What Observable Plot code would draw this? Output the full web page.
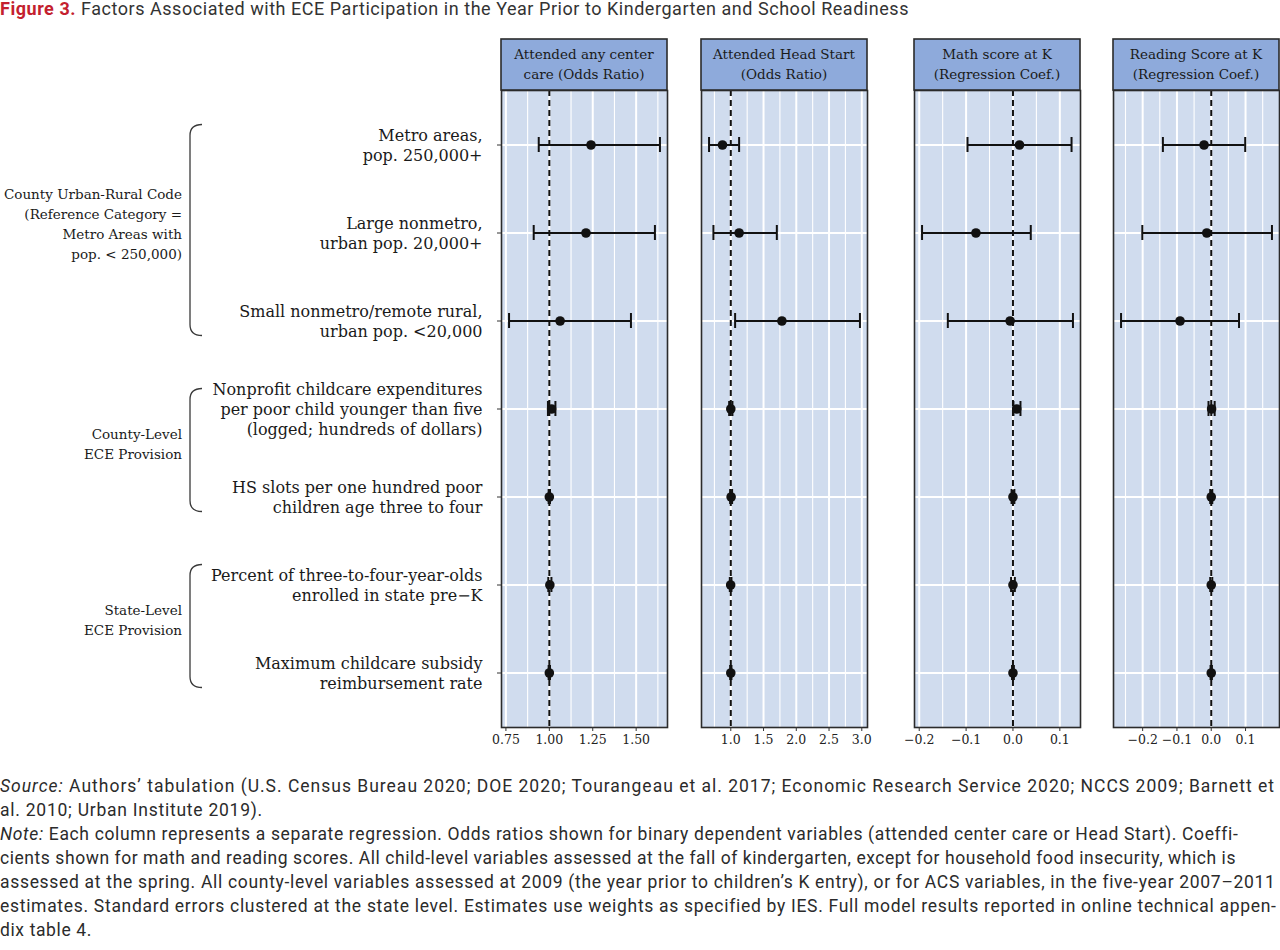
<!DOCTYPE html>
<html><head><meta charset="utf-8">
<script src="https://cdn.jsdelivr.net/npm/d3@7"></script>
<script src="https://cdn.jsdelivr.net/npm/@observablehq/plot@0.6"></script>
<style>
body{margin:0;background:#fff;width:1280px;height:950px;overflow:hidden;position:relative;font-family:Roboto,sans-serif;color:#2b2b2b}
#charts{position:absolute;left:0;top:0;width:1280px;height:770px}
#charts svg{position:absolute;top:0;overflow:visible}
#title{position:absolute;left:0;top:-1px;font-size:18px;line-height:20px;white-space:nowrap;color:#333}
#title b{color:#c41f2f;font-weight:700}
#foot{position:absolute;left:0;top:774px;font-size:17.5px;line-height:24px;white-space:nowrap;color:#2b2b2b}
#foot div{height:24px}
</style></head><body>
<div id="charts"></div>
<div id="title"><span id="ttl"><b>Figure 3.</b> Factors Associated with ECE Participation in the Year Prior to Kindergarten and School Readiness</span></div>
<div id="foot">
<div><span data-w="1275"><i>Source:</i> Authors’ tabulation (U.S. Census Bureau 2020; DOE 2020; Tourangeau et al. 2017; Economic Research Service 2020; NCCS 2009; Barnett et</span></div>
<div><span data-w="263">al. 2010; Urban Institute 2019).</span></div>
<div><span data-w="1237"><i>Note:</i> Each column represents a separate regression. Odds ratios shown for binary dependent variables (attended center care or Head Start). Coeffi-</span></div>
<div><span data-w="1236">cients shown for math and reading scores. All child-level variables assessed at the fall of kindergarten, except for household food insecurity, which is</span></div>
<div><span data-w="1275">assessed at the spring. All county-level variables assessed at 2009 (the year prior to children’s K entry), or for ACS variables, in the five-year 2007–2011</span></div>
<div><span data-w="1276">estimates. Standard errors clustered at the state level. Estimates use weights as specified by IES. Full model results reported in online technical appen-</span></div>
<div><span data-w="92">dix table 4.</span></div>
</div>
<script>
// ---------- data ----------
const rowLabels = [
  "Metro areas,\npop. 250,000+",
  "Large nonmetro,\nurban pop. 20,000+",
  "Small nonmetro/remote rural,\nurban pop. <20,000",
  "Nonprofit childcare expenditures\nper poor child younger than five\n(logged; hundreds of dollars)",
  "HS slots per one hundred poor\nchildren age three to four",
  "Percent of three-to-four-year-olds\nenrolled in state pre\u2212K",
  "Maximum childcare subsidy\nreimbursement rate"
];
const groupLabels = [
  "County Urban-Rural Code\n(Reference Category =\nMetro Areas with\npop. < 250,000)",
  "County-Level\nECE Provision",
  "State-Level\nECE Provision"
];
const groupFirst = [rowLabels[0], rowLabels[3], rowLabels[5]];
const groupLast  = [rowLabels[2], rowLabels[4], rowLabels[6]];

const panelTitles = [
  "Attended any center\ncare (Odds Ratio)",
  "Attended Head Start\n(Odds Ratio)",
  "Math score at K\n(Regression Coef.)",
  "Reading Score at K\n(Regression Coef.)"
];

const centerEst = [1.240, 1.211, 1.062, 1.013, 1.000, 1.003, 1.000];
const centerLo  = [0.939, 0.910, 0.768, 0.992, 0.996, 0.994, 0.996];
const centerHi  = [1.637, 1.608, 1.470, 1.035, 1.004, 1.012, 1.004];

const headEst = [0.873, 1.127, 1.780, 1.000, 1.005, 0.998, 1.000];
const headLo  = [0.668, 0.735, 1.066, 0.975, 0.990, 0.985, 0.990];
const headHi  = [1.127, 1.703, 2.972, 1.025, 1.020, 1.010, 1.010];

const mathEst = [0.014, -0.079, -0.006, 0.008, 0.000, 0.000, 0.000];
const mathLo  = [-0.097, -0.194, -0.139, 0.001, -0.003, -0.004, -0.002];
const mathHi  = [0.125, 0.038, 0.128, 0.016, 0.003, 0.004, 0.002];

const readEst = [-0.021, -0.013, -0.091, 0.001, 0.000, 0.000, 0.000];
const readLo  = [-0.141, -0.201, -0.263, -0.008, -0.003, -0.003, -0.002];
const readHi  = [0.099, 0.177, 0.081, 0.010, 0.003, 0.003, 0.002];

const centerTicks = [0.75, 1.00, 1.25, 1.50];
const headTicks = [1.0, 1.5, 2.0, 2.5, 3.0];
const mathTicks = [-0.2, -0.1, 0.0, 0.1];
const readTicks = [-0.2, -0.1, 0.0, 0.1];
const refValues = [1, 1, 0, 0];
const tickDecimals = [2, 1, 1, 1];

// ---------- layout ----------
const ests = [centerEst, headEst, mathEst, readEst];
const los = [centerLo, headLo, mathLo, readLo];
const his = [centerHi, headHi, mathHi, readHi];
const tickSets = [centerTicks, headTicks, mathTicks, readTicks];
const panelLeft = [501, 701, 914, 1113];
const panelW = 166;
const H = 770, MT = 90, MB = 43;
const INK = "#111";

function header(title) {
  return (index, scales, values, dims) => {
    const {width, marginLeft, marginRight, marginTop} = dims;
    const g = d3.create("svg:g");
    const x0 = marginLeft, w = width - marginLeft - marginRight;
    g.append("rect").attr("x", x0).attr("y", marginTop - 51).attr("width", w).attr("height", 51)
      .attr("fill", "#8eaadb").attr("stroke", "#2b2b2b").attr("stroke-width", 1.6);
    title.split("\n").forEach((ln, i) => {
      g.append("text").attr("x", x0 + w / 2).attr("y", marginTop - 51 + 15 + i * 20).attr("dy", "0.35em")
        .attr("text-anchor", "middle").attr("font-size", 13.5).attr("fill", "#1a1a1a").text(ln);
    });
    return g.node();
  };
}

function brackets(index, scales) {
  const y = scales.y;
  const half = y.bandwidth ? y.bandwidth() / 2 : 0;
  const g = d3.create("svg:g");
  groupLabels.forEach((lab, j) => {
    const top = y(groupFirst[j]) + half - 20, bot = y(groupLast[j]) + half + 15;
    const x0 = 190, x1 = 202, r = 11;
    g.append("path").attr("d", `M${x1},${top}Q${x0},${top} ${x0},${top + r}L${x0},${bot - r}Q${x0},${bot} ${x1},${bot}`)
      .attr("fill", "none").attr("stroke", "#3a3a3a").attr("stroke-width", 1.3);
    const lines = lab.split("\n");
    const c = (top + bot) / 2 - 6;
    lines.forEach((ln, i) => {
      g.append("text").attr("x", 182).attr("y", c + (i - (lines.length - 1) / 2) * 20).attr("dy", "0.35em")
        .attr("text-anchor", "end").attr("font-size", 13.5).attr("fill", "#1a1a1a").text(ln);
    });
  });
  return g.node();
}

function makePanel(k) {
  const data = rowLabels.map((row, i) => ({row, est: ests[k][i], lo: los[k][i], hi: his[k][i]}));
  const mn = d3.min(los[k]), mx = d3.max(his[k]), pad = (mx - mn) * 0.05;
  const domain = [mn - pad, mx + pad];
  const major = tickSets[k];
  const step = major[1] - major[0];
  const minor = d3.range(-20, 21).map(i => major[0] + (i + 0.5) * step).filter(v => v > domain[0] && v < domain[1]);
  const majorIn = d3.range(-20, 21).map(i => major[0] + i * step).filter(v => v > domain[0] && v < domain[1]);
  const first = k === 0;
  const mL = first ? panelLeft[0] : 10;
  const mR = k === 3 ? 1 : 10;
  const fmt = d3.format(`.${tickDecimals[k]}f`);
  const svg = Plot.plot({
    width: mL + panelW + mR, height: H,
    marginTop: MT, marginBottom: MB, marginLeft: mL, marginRight: mR,
    style: {fontFamily: "DejaVu Serif", fontSize: "12.5px", color: "#222", background: "none", overflow: "visible"},
    x: {domain},
    y: {type: "band", domain: rowLabels, paddingInner: 0.83, paddingOuter: 0.515, axis: first ? undefined : null},
    marks: [
      Plot.frame({fill: "#d0dcee"}),
      Plot.ruleX(minor, {stroke: "#fff", strokeWidth: 1.1}),
      Plot.ruleX(majorIn, {stroke: "#fff", strokeWidth: 2}),
      Plot.ruleY(rowLabels, {stroke: "#fff", strokeWidth: 2}),
      Plot.ruleX([refValues[k]], {stroke: INK, strokeWidth: 2, strokeDasharray: "6,4"}),
      Plot.ruleY(data, {y: "row", x1: "lo", x2: "hi", stroke: INK, strokeWidth: 2}),
      Plot.tickX(data, {x: "lo", y: "row", stroke: INK, strokeWidth: 2}),
      Plot.tickX(data, {x: "hi", y: "row", stroke: INK, strokeWidth: 2}),
      Plot.dot(data, {x: "est", y: "row", r: 4.8, fill: INK, stroke: "none"}),
      Plot.frame({stroke: "#2b2b2b", strokeWidth: 1.6}),
      Plot.axisX(major, {tickSize: 4, tickPadding: 4, tickFormat: fmt, label: null, stroke: "#333", fill: "#222"}),
      first ? Plot.axisY({tickSize: 4, tickPadding: 15, label: null, fontSize: 16, lineHeight: 1.25, stroke: "#333", fill: "#1a1a1a"}) : null,
      header(panelTitles[k]),
      first ? brackets : null
    ]
  });
  svg.style.left = (panelLeft[k] - mL) + "px";
  return svg;
}

const host = document.getElementById("charts");
for (let k = 0; k < 4; k++) host.appendChild(makePanel(k));

// fit title / footer line widths to the reference layout
function fitSpan(span, target, holder) {
  const w = span.getBoundingClientRect().width;
  const ls = (target - w) / Math.max(1, span.textContent.length);
  (holder || span).style.letterSpacing = ls + "px";
}
const ttl = document.getElementById("ttl");
fitSpan(ttl, 909, document.getElementById("title"));
document.querySelectorAll("#foot span[data-w]").forEach(s => fitSpan(s, +s.dataset.w));
</script>
</body></html>
